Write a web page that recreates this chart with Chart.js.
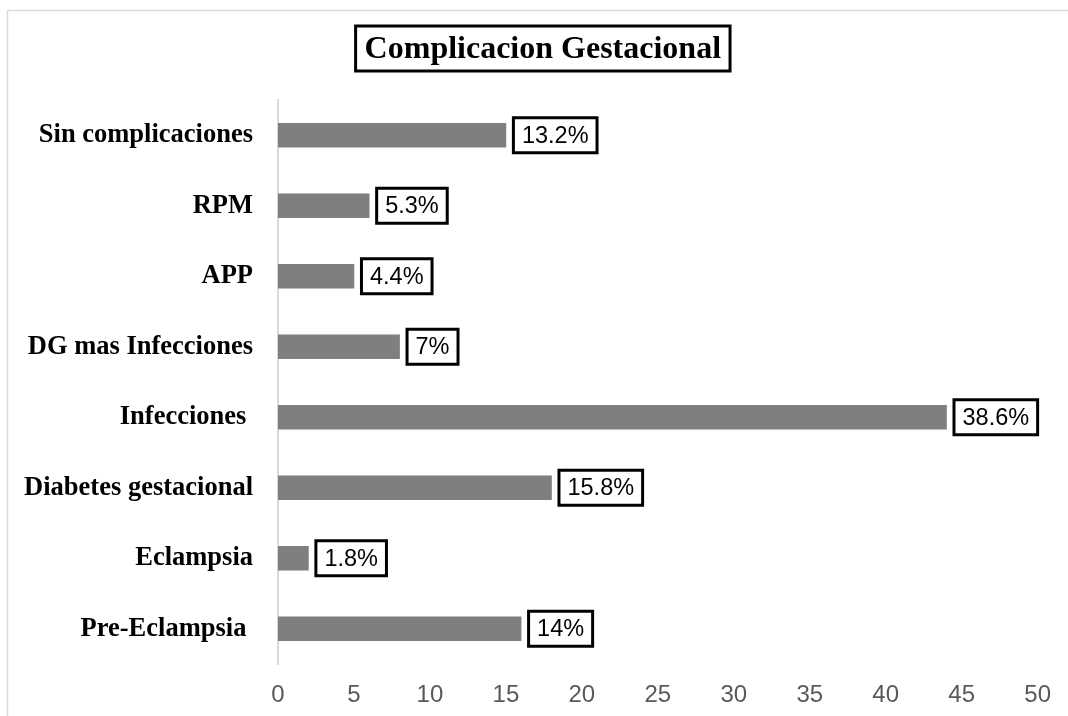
<!DOCTYPE html>
<html>
<head>
<meta charset="utf-8">
<script src="https://cdn.jsdelivr.net/npm/chart.js@4.4.1/dist/chart.umd.min.js"></script>
<style>
    html, body { margin: 0; padding: 0; background: #fff; }
    #grafico { display: block; }
</style>
</head>
<body>
<canvas id="grafico" width="1068" height="716"></canvas>
<script>
// datos
var categorias = ["Sin complicaciones", "RPM", "APP", "DG mas Infecciones", "Infecciones ", "Diabetes gestacional", "Eclampsia", "Pre-Eclampsia "];
var casos = [15, 6, 5, 8, 44, 18, 2, 16];
var porcentajes = ["13.2%", "5.3%", "4.4%", "7%", "38.6%", "15.8%", "1.8%", "14%"];
var titulo = "Complicacion Gestacional";

// marco gris claro y titulo con recuadro
var marcoYTitulo = {
    id: "marcoYTitulo",
    beforeDraw: function (chart) {
        var ctx = chart.ctx;
        ctx.save();
        ctx.fillStyle = "#ffffff";
        ctx.fillRect(0, 0, chart.width, chart.height);
        ctx.strokeStyle = "#d9d9d9";
        ctx.lineWidth = 1.5;
        ctx.strokeRect(7.5, 10.5, chart.width + 20, chart.height + 20);
        ctx.restore();
    },
    afterDraw: function (chart) {
        var ctx = chart.ctx;
        ctx.save();
        ctx.font = "bold 32px 'Liberation Serif', 'Times New Roman', serif";
        ctx.textAlign = "center";
        ctx.textBaseline = "middle";
        ctx.fillStyle = "#000";
        var cx = (chart.chartArea.left + chart.chartArea.right) / 2 - 115;
        var w = ctx.measureText(titulo).width;
        ctx.fillText(titulo, cx, 50);
        ctx.lineWidth = 3;
        ctx.strokeStyle = "#000";
        ctx.strokeRect(cx - w / 2 - 9, 26, w + 18, 45);
        ctx.restore();
    }
};

// etiquetas de porcentaje en recuadro al final de cada barra
var etiquetasBarras = {
    id: "etiquetasBarras",
    afterDatasetsDraw: function (chart) {
        var ctx = chart.ctx;
        var meta = chart.getDatasetMeta(0);
        ctx.save();
        ctx.font = "23.5px 'Liberation Sans', Arial, sans-serif";
        ctx.textAlign = "center";
        ctx.textBaseline = "middle";
        meta.data.forEach(function (bar, i) {
            var txt = porcentajes[i];
            var w = ctx.measureText(txt).width + 17;
            var x = bar.x + 7.5;
            var y = bar.y - 17.5;
            ctx.fillStyle = "#fff";
            ctx.fillRect(x, y, w, 35);
            ctx.lineWidth = 3;
            ctx.strokeStyle = "#000";
            ctx.strokeRect(x, y, w, 35);
            ctx.fillStyle = "#000";
            ctx.fillText(txt, x + w / 2, bar.y + 1);
        });
        ctx.restore();
    }
};

var ctx = document.getElementById("grafico").getContext("2d");
var grafico = new Chart(ctx, {
    type: "bar",
    data: {
        labels: categorias,
        datasets: [{
            data: casos,
            backgroundColor: "#7f7f7f",
            borderWidth: 0,
            barThickness: 24
        }]
    },
    options: {
        indexAxis: "y",
        responsive: false,
        animation: false,
        layout: { padding: { top: 100, right: 28, left: 0, bottom: 0 } },
        plugins: {
            legend: { display: false },
            tooltip: { enabled: false }
        },
        scales: {
            x: {
                min: 0,
                max: 50,
                afterFit: function (scale) { scale.height = 52; },
                grid: { display: false, drawTicks: false },
                border: { display: false },
                ticks: {
                    stepSize: 5,
                    padding: 17,
                    color: "#595959",
                    font: { family: "'Liberation Sans', Arial, sans-serif", size: 24 }
                }
            },
            y: {
                afterFit: function (scale) { scale.width = 278; },
                grid: { display: false, drawTicks: false },
                border: { display: true, color: "#d9d9d9", width: 2 },
                ticks: {
                    padding: 25,
                    color: "#000",
                    font: { family: "'Liberation Serif', 'Times New Roman', serif", size: 26.5, weight: "bold" }
                }
            }
        }
    },
    plugins: [marcoYTitulo, etiquetasBarras]
});
</script>
</body>
</html>
